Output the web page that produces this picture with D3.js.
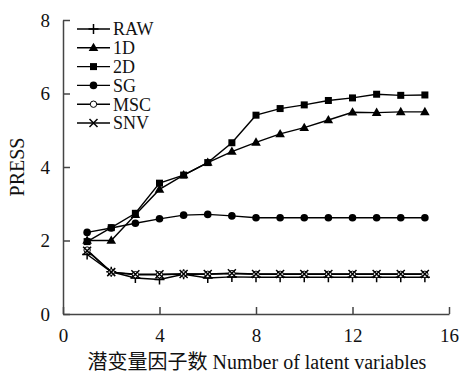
<!DOCTYPE html>
<html>
<head>
<meta charset="utf-8">
<script src="https://cdn.jsdelivr.net/npm/d3@7"></script>
<style>
  body { margin: 0; background: #fff; }
  text { font-family: "Liberation Serif", "Noto Sans CJK SC", serif; }
</style>
</head>
<body>
<script>
const latent = [1, 2, 3, 4, 5, 6, 7, 8, 9, 10, 11, 12, 13, 14, 15];
const rawVals = [1.62, 1.15, 0.98, 0.94, 1.08, 0.98, 1.01, 1.0, 1.0, 1.0, 1.0, 1.0, 1.0, 1.0, 1.0];
const d1Vals = [2.0, 2.0, 2.7, 3.39, 3.78, 4.12, 4.42, 4.67, 4.9, 5.07, 5.28, 5.49, 5.48, 5.5, 5.5];
const d2Vals = [1.97, 2.35, 2.74, 3.56, 3.78, 4.12, 4.66, 5.41, 5.59, 5.69, 5.81, 5.88, 5.98, 5.95, 5.96];
const sgVals = [2.22, 2.34, 2.47, 2.59, 2.69, 2.71, 2.67, 2.62, 2.62, 2.62, 2.62, 2.62, 2.62, 2.62, 2.62];
const mscVals = [1.74, 1.14, 1.07, 1.07, 1.09, 1.08, 1.1, 1.08, 1.08, 1.08, 1.08, 1.08, 1.08, 1.08, 1.08];
const snvVals = [1.72, 1.14, 1.08, 1.08, 1.09, 1.09, 1.11, 1.09, 1.09, 1.09, 1.09, 1.09, 1.09, 1.09, 1.09];
const seriesNames = ["RAW", "1D", "2D", "SG", "MSC", "SNV"];
const xTicks = [0, 4, 8, 12, 16];
const yTicks = [0, 2, 4, 6, 8];

const series = [
  { name: "RAW", values: rawVals, mark: "plus" },
  { name: "1D", values: d1Vals, mark: "triangle" },
  { name: "2D", values: d2Vals, mark: "square" },
  { name: "SG", values: sgVals, mark: "circle" },
  { name: "MSC", values: mscVals, mark: "open" },
  { name: "SNV", values: snvVals, mark: "cross" }
];

const svg = d3.select("body")
  .append("svg")
  .attr("width", 459)
  .attr("height", 376);

const x = d3.scaleLinear().domain([0, 16]).range([63, 449]);
const y = d3.scaleLinear().domain([0, 8]).range([314, 20]);

// axes, ticks pointing inward
const axisColor = "#444";
const xAxis = svg.append("g")
  .attr("transform", "translate(0,314)")
  .call(d3.axisBottom(x).tickValues(xTicks).tickSizeInner(-7).tickSizeOuter(0).tickPadding(12));
const yAxis = svg.append("g")
  .attr("transform", "translate(63,0)")
  .call(d3.axisLeft(y).tickValues(yTicks).tickSizeInner(-7).tickSizeOuter(0).tickPadding(13));

[xAxis, yAxis].forEach(a => {
  a.select(".domain").attr("stroke", axisColor).attr("stroke-width", 1.5);
  a.selectAll(".tick line").attr("stroke", axisColor).attr("stroke-width", 1.5);
  a.selectAll(".tick text")
    .attr("fill", "#111")
    .style("font-size", "19px")
    .style("font-family", "Liberation Serif, serif");
});
xAxis.selectAll(".tick text").attr("dy", "0.85em");

function drawMark(g, type, cx, cy) {
  if (type === "plus") {
    g.append("path").attr("d", `M${cx - 5},${cy}H${cx + 5}M${cx},${cy - 5}V${cy + 5}`)
      .attr("stroke", "#000").attr("stroke-width", 1.5);
  } else if (type === "cross") {
    g.append("path").attr("d", `M${cx - 4},${cy - 4}L${cx + 4},${cy + 4}M${cx - 4},${cy + 4}L${cx + 4},${cy - 4}`)
      .attr("stroke", "#000").attr("stroke-width", 1.5);
  } else if (type === "triangle") {
    g.append("path").attr("d", d3.symbol(d3.symbolTriangle, 40)())
      .attr("transform", `translate(${cx},${cy + 0.5})`).attr("fill", "#000");
  } else if (type === "square") {
    g.append("rect").attr("x", cx - 3.5).attr("y", cy - 3.5)
      .attr("width", 7).attr("height", 7).attr("fill", "#000");
  } else if (type === "circle") {
    g.append("circle").attr("cx", cx).attr("cy", cy).attr("r", 3.8).attr("fill", "#000");
  } else if (type === "open") {
    g.append("circle").attr("cx", cx).attr("cy", cy).attr("r", 3.2)
      .attr("fill", "#fff").attr("stroke", "#000").attr("stroke-width", 1);
  }
}

const line = d3.line().x((d, i) => x(latent[i])).y(d => y(d));

series.forEach(s => {
  svg.append("path")
    .attr("d", line(s.values))
    .attr("fill", "none")
    .attr("stroke", "#000")
    .attr("stroke-width", 1.4);
});
series.forEach(s => {
  const g = svg.append("g");
  s.values.forEach((v, i) => drawMark(g, s.mark, x(latent[i]), y(v)));
});

// legend
const legend = svg.append("g");
seriesNames.forEach((name, i) => {
  const s = series.find(d => d.name === name);
  const ly = 29 + i * 18.8;
  legend.append("line")
    .attr("x1", 77).attr("x2", 110).attr("y1", ly).attr("y2", ly)
    .attr("stroke", "#000").attr("stroke-width", 1.4);
  drawMark(legend, s.mark, 93.5, ly);
  legend.append("text")
    .attr("x", 113).attr("y", ly).attr("dy", "0.35em")
    .style("font-size", "18px")
    .attr("fill", "#111")
    .text(name);
});

svg.append("text")
  .attr("transform", "translate(24,167) rotate(-90)")
  .attr("text-anchor", "middle")
  .style("font-size", "20px")
  .attr("fill", "#111")
  .text("PRESS");

svg.append("text")
  .attr("x", 257).attr("y", 369)
  .attr("text-anchor", "middle")
  .style("font-size", "20px")
  .attr("fill", "#111")
  .text("潜变量因子数 Number of latent variables");
</script>
</body>
</html>
